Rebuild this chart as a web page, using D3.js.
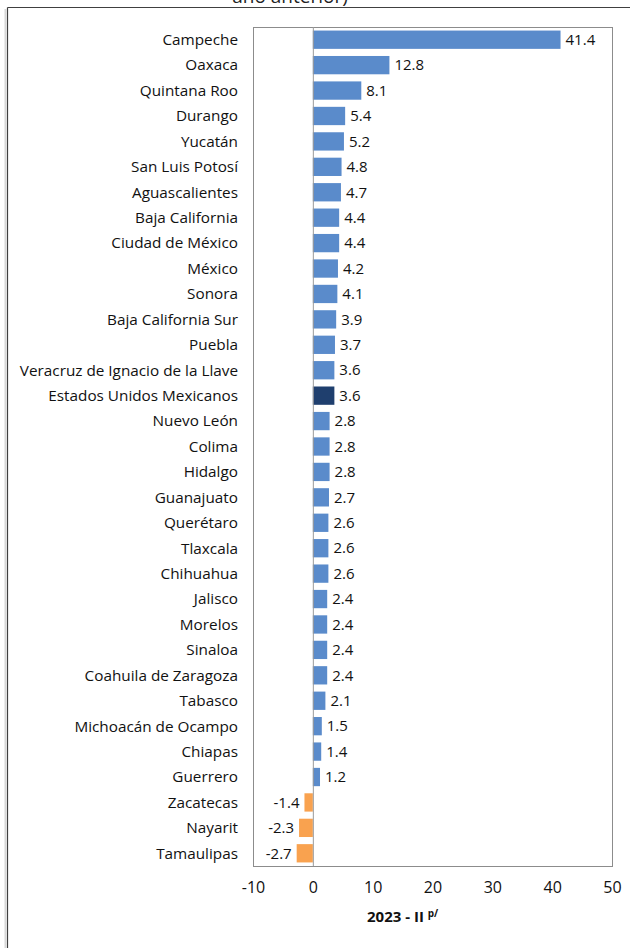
<!DOCTYPE html>
<html><head><meta charset="utf-8">
<script src="https://cdn.jsdelivr.net/npm/d3@7"></script>
<style>body{margin:0;background:#fff;}svg{display:block;font-family:"Open Sans",Lato,sans-serif;}</style>
</head><body>
<svg id="c" width="630" height="948"></svg>
<script>
const categories = ["Campeche","Oaxaca","Quintana Roo","Durango","Yucatán","San Luis Potosí","Aguascalientes","Baja California","Ciudad de México","México","Sonora","Baja California Sur","Puebla","Veracruz de Ignacio de la Llave","Estados Unidos Mexicanos","Nuevo León","Colima","Hidalgo","Guanajuato","Querétaro","Tlaxcala","Chihuahua","Jalisco","Morelos","Sinaloa","Coahuila de Zaragoza","Tabasco","Michoacán de Ocampo","Chiapas","Guerrero","Zacatecas","Nayarit","Tamaulipas"];
const values = [41.4,12.8,8.1,5.4,5.2,4.8,4.7,4.4,4.4,4.2,4.1,3.9,3.7,3.6,3.6,2.8,2.8,2.8,2.7,2.6,2.6,2.6,2.4,2.4,2.4,2.4,2.1,1.5,1.4,1.2,-1.4,-2.3,-2.7];
const xTicks = [-10,0,10,20,30,40,50];
const nationalName = "Estados Unidos Mexicanos";
const titleTail = "año anterior)";
const axisTitle = "2023 - II";
const axisTitleSup = "p/";

const svg = d3.select("#c");
const L = 253, R = 612, T = 27, B = 866;
const fmt1 = d => d.toFixed(1);
const fmt0 = d => String(d);

// outer frame
svg.append("line").attr("x1",7.5).attr("x2",630).attr("y1",7.5).attr("y2",7.5).attr("stroke","#404040").attr("stroke-width",1.2);
svg.append("line").attr("x1",7.5).attr("x2",7.5).attr("y1",7.5).attr("y2",948).attr("stroke","#404040").attr("stroke-width",1.2);
svg.append("line").attr("x1",5.5).attr("x2",5.5).attr("y1",9).attr("y2",948).attr("stroke","#d8d8d8").attr("stroke-width",2);

svg.append("text").attr("x",290).attr("y",3).attr("text-anchor","middle").attr("font-size",19).attr("fill","#222").text(titleTail);

const x = d3.scaleLinear().domain([-10,50]).range([L,R]);
const y = d3.scaleBand().domain(categories).range([T,B]).paddingInner(0.28).paddingOuter(0.14);

svg.append("rect").attr("x",L+0.5).attr("y",T+0.5).attr("width",R-L).attr("height",B-T).attr("fill","none").attr("stroke","#8c8c8c").attr("stroke-width",1);

const color = (d,i) => categories[i]===nationalName ? "#1f3f6e" : (d<0 ? "#f9a24f" : "#5a8bcb");

svg.append("g").selectAll("rect").data(values).join("rect")
  .attr("x",d=>x(Math.min(0,d)))
  .attr("y",(d,i)=>y(categories[i]))
  .attr("width",d=>Math.abs(x(d)-x(0)))
  .attr("height",y.bandwidth())
  .attr("fill",color);

svg.append("line").attr("x1",x(0)+0.5).attr("x2",x(0)+0.5).attr("y1",T).attr("y2",B).attr("stroke","#9a9a9a").attr("stroke-width",1);

svg.append("g").selectAll("text").data(values).join("text")
  .attr("x",d=> d<0 ? x(d)-5 : x(d)+5)
  .attr("y",(d,i)=>y(categories[i])+y.bandwidth()/2)
  .attr("dy","0.35em")
  .attr("text-anchor",d=>d<0?"end":"start")
  .attr("font-size",15).attr("fill","#111")
  .text(fmt1);

svg.append("g").selectAll("text").data(categories).join("text")
  .attr("x",L-15)
  .attr("y",d=>y(d)+y.bandwidth()/2)
  .attr("dy","0.35em")
  .attr("text-anchor","end")
  .attr("font-size",15.3).attr("fill","#111")
  .text(d=>d);

const ax = svg.append("g").attr("transform",`translate(0,${B})`)
  .call(d3.axisBottom(x).tickValues(xTicks).tickSize(0).tickPadding(16).tickFormat(fmt0));
ax.select(".domain").remove();
ax.selectAll("text").attr("font-size",16).attr("fill","#111").attr("font-family","'Open Sans',Lato,sans-serif");

const at = svg.append("text").attr("x",367).attr("y",922).attr("font-size",15).attr("font-weight","bold").attr("fill","#111");
at.append("tspan").text(axisTitle + " ");
at.append("tspan").attr("font-size",10).attr("dy",-5).text(axisTitleSup);
</script>
</body></html>
